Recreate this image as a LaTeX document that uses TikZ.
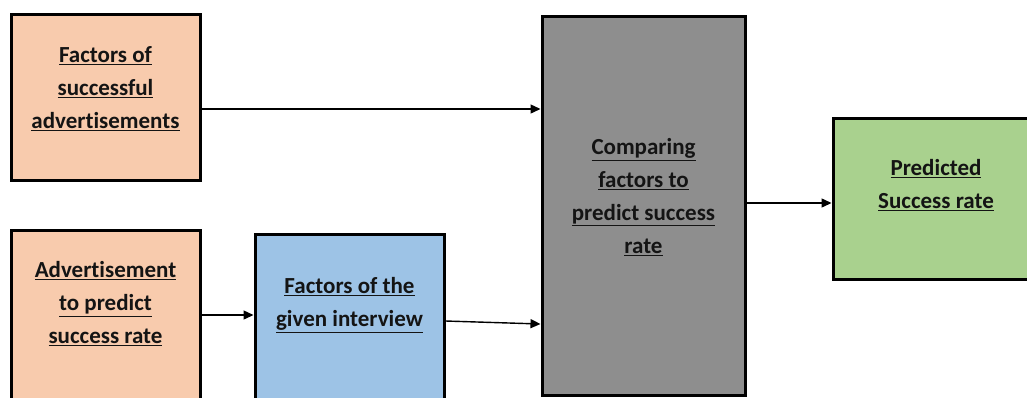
\documentclass[tikz,border=0pt]{standalone}
\usepackage{fontspec}
\setmainfont[Ligatures=NoCommon]{Carlito}
\usetikzlibrary{arrows.meta}
\definecolor{orangefill}{HTML}{F8CBAD}
\definecolor{bluefill}{HTML}{9DC3E6}
\definecolor{grayfill}{HTML}{8E8E8E}
\definecolor{greenfill}{HTML}{A9D18E}
\definecolor{txt}{HTML}{141414}
\newcommand{\ulx}[1]{\underline{#1}}
\begin{document}
\begin{tikzpicture}[x=1pt,y=-1pt,
  box/.style={draw=black, line width=3pt, minimum width=#1, inner sep=0pt},
  lbl/.style={align=center, text=txt, font=\fontsize{23}{33}\selectfont\bfseries, inner sep=0pt},
  conn/.style={line width=1.4pt, -{Triangle[length=10pt,width=9pt]}}]
\useasboundingbox (0,0) rectangle (1027,397);
\clip (0,0) rectangle (1027,397);
\fill[white] (0,0) rectangle (1027,397);
% boxes
\node[box=189pt, minimum height=166pt, fill=orangefill] (b1) at (105.5,97) {};
\node[box=189pt, minimum height=170pt, fill=orangefill] (b2) at (105.5,315) {};
\node[box=189pt, minimum height=166pt, fill=bluefill] (b3) at (349.5,317) {};
\node[box=203pt, minimum height=379pt, fill=grayfill] (b4) at (643.5,205.5) {};
\node[box=196pt, minimum height=161pt, fill=greenfill] (b5) at (931,198.5) {};
% labels
\node[lbl] (t1) at (105.5,89) {\ulx{Factors of}\\\ulx{successful}\\\ulx{advertisements}};
\node[lbl] (t2) at (105.5,304) {\ulx{Advertisement}\\\ulx{to predict}\\\ulx{success rate}};
\node[lbl] (t3) at (349.5,305) {\ulx{Factors of the}\\\ulx{given interview}};
\node[lbl] (t4) at (643.5,197) {\ulx{Comparing}\\\ulx{factors to}\\\ulx{predict success}\\\ulx{rate}};
\node[lbl] (t5) at (936,185) {\ulx{Predicted}\\\ulx{Success rate}};
% connectors
\draw[conn] (b1.east |- 0,109) -- (b4.west |- 0,109);
\draw[conn] (b2.east |- 0,315) -- (b3.west |- 0,315);
\draw[conn] (b3.east |- 0,321) -- (b4.west |- 0,324);
\draw[conn] (b4.east |- 0,203) -- (b5.west |- 0,203);
\end{tikzpicture}
\end{document}
